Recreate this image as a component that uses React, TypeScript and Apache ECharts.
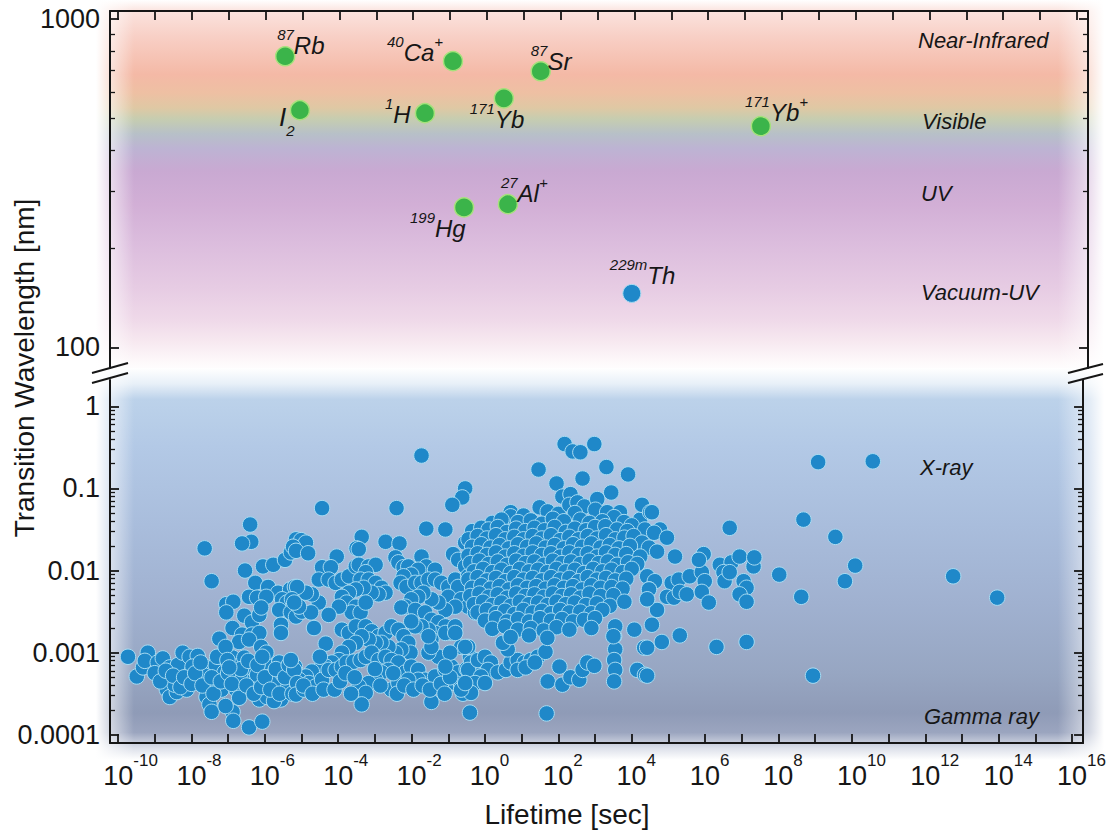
import React, { useEffect, useRef } from "react";
import * as echarts from "echarts";

// ---------------- DATA ----------------
// Top panel: optical transitions. x = log10(lifetime / s), y = wavelength (nm)
const clockLabels = ["87Rb", "I2", "40Ca+", "1H", "171Yb", "87Sr", "171Yb+", "199Hg", "27Al+"];
const clockLogLifetime = [-5.47, -5.07, -0.92, -1.68, 0.46, 1.46, 7.43, -0.62, 0.57];
const clockWavelengthNm = [771, 528, 745, 517, 574, 694, 472, 267, 273];
const thoriumLabels = ["229mTh"];
const thoriumLogLifetime = [3.93];
const thoriumWavelengthNm = [146];

// Bottom panel: nuclear transitions. [log10(lifetime / s), log10(wavelength / nm)]
const shortLivedBand = [
  [-9.73,-3.05],[-9.49,-3.29],[-9.32,-3.18],[-9.19,-3.0],[-9.27,-3.1],[-8.92,-3.12],[-8.78,-3.07],[-8.59,-3.18],[-8.64,-3.33],[-8.67,-3.45],
  [-8.59,-3.54],[-8.4,-3.48],[-8.46,-3.39],[-8.32,-3.22],[-8.37,-3.15],[-8.24,-3.0],[-8.05,-3.05],[-7.83,-3.04],[-7.97,-3.17],[-8.13,-3.45],
  [-8.16,-3.34],[-7.64,-3.17],[-7.64,-3.28],[-7.51,-3.39],[-7.59,-3.54],[-7.51,-3.63],[-7.45,-3.72],[-7.34,-3.15],[-7.24,-3.05],[-7.1,-3.24],
  [-7.18,-3.45],[-6.97,-3.33],[-6.88,-3.06],[-6.88,-3.72],[-6.86,-3.83],[-6.78,-3.17],[-6.78,-3.45],[-6.62,-3.28],[-6.56,-3.06],[-6.43,-3.17],
  [-6.43,-3.91],[-6.07,-3.84],[-6.43,-3.45],[-6.29,-3.33],[-6.15,-3.57],[-5.94,-3.54],[-5.88,-3.21],[-6.02,-3.12],[-5.75,-3.37],[-5.61,-3.12],
  [-5.5,-3.27],[-5.37,-3.43],[-5.56,-3.57],[-5.29,-3.24],[-5.18,-3.17],[-5.12,-3.37],[-5.75,-3.59],[-7.07,-3.65],[-6.21,-3.27],
  [-9.0,-3.25],[-8.85,-3.35],[-8.7,-3.22],[-8.5,-3.28],[-8.3,-3.42],[-8.2,-3.3],[-8.0,-3.38],[-7.9,-3.25],[-7.75,-3.12],[-7.7,-3.4],
  [-7.45,-3.3],[-7.4,-3.5],[-7.3,-3.05],[-7.2,-3.35],[-7.0,-3.25],[-6.9,-3.38],[-6.7,-3.55],[-6.65,-3.2],[-6.5,-3.4],[-6.45,-3.1],
  [-6.3,-3.5],[-6.2,-3.15],[-6.1,-3.42],[-6.0,-3.3],[-5.85,-3.45],[-5.7,-3.2],[-5.6,-3.5],[-5.45,-3.3],[-5.35,-3.15],[-5.25,-3.5],
];
const upperLeftBranch = [
  [-6.4,-1.44],[-6.37,-1.65],[-6.62,-1.67],[-7.64,-1.73],[-7.45,-2.13],[-6.54,-2.0],[-6.05,-1.95],[-5.77,-1.93],[-5.45,-1.87],[-5.29,-1.78],
  [-5.18,-1.71],[-5.15,-1.62],[-6.26,-2.15],[-5.91,-2.2],[-5.64,-2.27],[-5.31,-2.23],[-5.18,-2.2],[-6.43,-2.32],[-6.21,-2.33],[-5.96,-2.32],
  [-5.53,-2.35],[-5.4,-2.39],[-5.23,-2.44],[-5.61,-2.48],[-5.29,-2.51],[-5.15,-2.56],[-7.05,-2.41],[-6.86,-2.38],[-7.05,-2.51],[-6.56,-2.55],
  [-6.35,-2.63],[-6.15,-2.54],[-6.1,-2.45],[-6.88,-2.7],[-6.62,-2.78],[-6.35,-2.78],[-6.15,-2.76],[-6.7,-2.87],[-6.43,-2.84],[-7.24,-2.83],
  [-5.56,-2.66],[-5.56,-2.76],[-6.1,-2.93],[-5.96,-3.0],[-6.07,-3.05],[-7.07,-2.93],[-7.02,-3.09],[-6.97,-3.18],
];
const midUpperBand = [
  [-1.73,-0.6],[-4.44,-1.24],[-2.41,-1.24],[-0.54,-1.0],[-0.62,-1.11],[-0.89,-1.2],[-1.6,-1.49],[-1.08,-1.5],[-3.36,-1.59],[-3.5,-1.73],
  [-2.71,-1.65],[-2.33,-1.67],[-5.01,-1.63],[-4.88,-1.66],[-5.23,-1.71],[-5.15,-1.76],[-4.82,-1.79],[-4.04,-1.83],[-3.44,-1.74],
  [-4.44,-1.96],[-4.2,-1.96],[-4.53,-2.11],[-4.26,-2.11],[-4.07,-2.15],[-3.9,-2.11],[-3.71,-2.07],[-3.52,-1.95],[-3.44,-1.93],[-3.17,-1.95],
  [-2.98,-1.93],[-3.25,-2.02],[-3.39,-2.11],[-3.17,-2.11],[-2.98,-2.15],[-2.82,-2.21],[-2.71,-2.27],[-2.9,-2.29],[-3.09,-2.27],[-3.31,-2.21],
  [-3.52,-2.23],[-3.71,-2.27],[-3.9,-2.32],[-3.77,-2.39],[-3.52,-2.44],[-3.63,-2.51],[-3.39,-2.51],[-3.25,-2.39],[-3.98,-2.44],[-4.26,-2.54],
  [-4.53,-2.39],[-4.72,-2.29],[-4.88,-2.27],[-5.12,-2.2],[-5.26,-2.35],[-4.99,-2.5],[-4.74,-2.51],[-5.07,-2.44],[-5.2,-2.39],
  [-2.44,-1.84],[-2.36,-1.9],[-2.22,-1.96],[-2.09,-1.95],[-1.73,-1.83],[-1.6,-1.95],[-1.36,-1.99],[-1.82,-1.99],[-2.01,-2.05],[-2.22,-2.07],
  [-2.3,-2.15],[-2.14,-2.2],[-1.9,-2.15],[-1.73,-2.15],[-1.54,-2.11],[-1.36,-2.11],[-1.19,-2.15],[-1.0,-2.2],[-0.81,-2.11],[-0.87,-1.8],
  [-0.73,-1.87],[-0.54,-1.66],[-0.38,-1.62],[-0.27,-1.74],[-0.54,-1.95],[-0.46,-2.07],[-0.73,-2.2],[-1.0,-2.32],[-0.65,-2.35],[-0.46,-2.44],
  [-0.27,-2.51],[-0.81,-2.44],[-1.08,-2.48],[-1.27,-2.39],[-1.46,-2.35],[-1.68,-2.27],[-1.82,-2.32],[-2.01,-2.35],[-2.17,-2.44],[-2.28,-2.45],
  [-1.9,-2.48],[-1.63,-2.51],[-1.46,-2.6],[-1.27,-2.63],[-1.08,-2.68],[-0.92,-2.76],[-1.36,-2.76],[-1.54,-2.72],[-1.73,-2.68],[-1.9,-2.68],[-2.01,-2.62],
];
const midLowerBand = [
  [-4.66,-2.7],[-4.34,-2.89],[-3.9,-2.72],[-3.71,-2.76],[-3.52,-2.68],[-3.25,-2.68],[-3.09,-2.74],[-2.9,-2.8],[-2.71,-2.76],[-2.55,-2.68],
  [-2.36,-2.72],[-2.22,-2.8],[-2.09,-2.88],[-2.03,-3.0],[-2.28,-2.96],[-2.44,-3.0],[-2.63,-2.93],[-2.82,-2.88],[-2.98,-2.88],[-3.17,-2.84],
  [-3.36,-2.8],[-3.52,-2.88],[-3.71,-2.93],[-3.9,-3.0],[-3.98,-3.09],[-4.17,-3.12],[-4.34,-3.17],[-4.53,-3.21],[-4.72,-3.23],[-4.88,-3.29],
  [-5.07,-3.33],[-5.2,-3.21],[-5.29,-3.09],[-5.12,-3.37],[-4.8,-3.37],[-4.61,-3.41],[-4.44,-3.33],[-4.26,-3.21],[-4.07,-3.21],[-3.9,-3.17],
  [-3.77,-3.12],[-3.58,-3.11],[-3.39,-3.09],[-3.25,-3.05],[-3.09,-3.0],[-2.9,-3.09],[-2.71,-3.05],[-2.55,-3.09],[-2.36,-3.12],[-2.63,-3.21],
  [-2.82,-3.24],[-2.98,-3.33],[-3.17,-3.37],[-3.44,-3.41],[-3.25,-3.49],[-2.55,-3.45],[-2.36,-3.37],[-2.17,-3.24],[-2.01,-3.17],[-1.82,-3.21],
  [-1.63,-3.33],[-1.82,-3.33],[-2.09,-3.33],[-1.36,-3.29],[-1.08,-3.21],[-1.27,-3.05],[-1.54,-3.0],[-1.46,-2.84],[-1.08,-2.76],[-0.81,-2.68],
  [-0.92,-3.17],[-0.73,-3.24],[-0.81,-3.37],[-0.65,-3.41],[-0.46,-3.33],[-0.27,-3.17],[-0.41,-3.05],[-0.65,-2.93],[-3.36,-3.63],[-1.46,-3.6],
  [-0.41,-3.73],[-5.15,-3.51],[-4.93,-3.45],
  [-4.95,-3.4],[-4.7,-3.5],[-4.5,-3.05],[-4.4,-3.45],[-4.1,-3.45],[-3.95,-3.35],[-3.8,-3.25],[-3.65,-3.5],[-3.55,-3.3],[-3.0,-3.2],
  [-2.85,-3.4],[-2.5,-3.25],[-2.4,-3.5],[-2.2,-3.4],[-1.95,-3.45],[-1.7,-3.4],[-1.5,-3.45],[-1.2,-3.38],[-1.1,-3.5],[-0.95,-3.3],[-0.6,-3.5],[-0.5,-3.2],
];
const risingStreak = [
  [-0.46,-2.93],[-0.38,-3.12],[-0.46,-3.21],[-0.19,-3.09],[0.0,-3.05],[0.16,-3.12],[0.08,-3.21],[-0.11,-3.29],[-0.27,-3.37],[-0.38,-3.49],
  [0.0,-3.37],[0.35,-3.24],[0.57,-3.21],[0.7,-3.12],[0.89,-3.09],[1.08,-3.12],[1.25,-3.09],[1.44,-3.05],[1.65,-2.99],[0.89,-3.21],
  [1.11,-3.18],[1.36,-3.12],[0.62,-2.96],[0.49,-2.88],[0.7,-2.78],[0.89,-2.72],
  [2.03,-3.17],[1.71,-3.35],[2.11,-3.39],[2.33,-3.3],[2.57,-3.33],[2.66,-3.21],[2.79,-3.12],[2.98,-3.16],
  [3.52,-2.8],[3.55,-2.96],[3.52,-3.09],[3.55,-3.21],[3.52,-3.35],[4.07,-2.72],[4.34,-2.94],[4.15,-3.21],[4.36,-3.27],[1.68,-3.74],
  [-0.65,-3.45],[-0.54,-3.37],[-0.81,-2.76],[-0.54,-2.93],[-0.95,-3.0],[-1.08,-3.17],[-1.46,-2.93],[-1.54,-2.8],
];
const coreCloud = [
  [2.17,-0.46],[2.39,-0.55],[2.6,-0.56],[2.98,-0.46],[1.46,-0.77],[3.31,-0.74],[3.9,-0.83],[2.66,-0.88],[1.95,-0.94],[3.44,-1.05],
  [2.11,-1.1],[2.33,-1.07],
  [0.7,-1.29],[0.7,-1.34],[1.05,-1.33],[1.49,-1.23],[1.71,-1.28],[2.0,-1.31],[2.3,-1.2],[2.52,-1.17],[2.71,-1.22],[3.06,-1.13],
  [3.01,-1.26],[2.45,-1.3],[3.33,-1.29],[3.68,-1.29],[3.52,-1.35],[4.23,-1.38],[4.28,-1.2],[4.5,-1.29],
  [0.2,-1.42],[0.45,-1.38],[0.9,-1.41],[1.25,-1.39],[1.55,-1.43],[1.85,-1.37],[2.15,-1.4],[2.6,-1.38],[2.85,-1.42],[3.2,-1.4],[3.79,-1.41],[4.0,-1.45],
  [-0.35,-1.52],[-0.1,-1.48],[0.1,-1.5],[0.35,-1.47],[0.6,-1.53],[0.85,-1.49],[1.1,-1.52],[1.35,-1.48],[1.62,-1.51],[1.9,-1.47],
  [2.2,-1.53],[2.45,-1.49],[2.75,-1.51],[3.0,-1.47],[3.28,-1.46],[3.6,-1.5],[3.88,-1.52],[4.36,-1.5],
  [-0.45,-1.62],[-0.2,-1.58],[0.05,-1.61],[0.3,-1.57],[0.55,-1.62],[0.8,-1.59],[1.05,-1.62],[1.3,-1.58],[1.55,-1.61],[1.8,-1.57],
  [2.05,-1.63],[2.3,-1.59],[2.55,-1.62],[2.8,-1.58],[3.05,-1.61],[3.3,-1.57],[3.55,-1.62],[3.8,-1.6],[4.05,-1.58],[4.28,-1.66],
  [-0.35,-1.71],[-0.1,-1.68],[0.15,-1.72],[0.4,-1.69],[0.65,-1.73],[0.9,-1.68],[1.15,-1.71],[1.4,-1.67],[1.65,-1.72],[1.9,-1.69],
  [2.15,-1.73],[2.4,-1.68],[2.65,-1.71],[2.9,-1.67],[3.15,-1.72],[3.4,-1.69],[3.65,-1.73],[3.95,-1.7],[4.47,-1.72],
  [-0.45,-1.82],[-0.2,-1.79],[0.05,-1.81],[0.3,-1.78],[0.55,-1.83],[0.8,-1.79],[1.05,-1.82],[1.3,-1.78],[1.55,-1.81],[1.8,-1.79],
  [2.05,-1.83],[2.3,-1.78],[2.55,-1.81],[2.8,-1.79],[3.05,-1.83],[3.3,-1.78],[3.55,-1.81],[3.85,-1.8],[4.23,-1.83],
  [-0.4,-1.91],[-0.15,-1.88],[0.1,-1.92],[0.35,-1.89],[0.6,-1.93],[0.85,-1.88],[1.1,-1.91],[1.35,-1.89],[1.6,-1.93],[1.85,-1.88],
  [2.1,-1.91],[2.35,-1.89],[2.6,-1.92],[2.85,-1.88],[3.1,-1.91],[3.35,-1.89],[3.6,-1.93],[3.9,-1.9],[4.15,-1.92],
  [-0.3,-2.01],[-0.05,-1.98],[0.2,-2.02],[0.45,-1.99],[0.7,-2.03],[0.95,-1.98],[1.2,-2.01],[1.45,-1.99],[1.7,-2.02],[1.95,-1.98],
  [2.2,-2.01],[2.45,-1.99],[2.7,-2.03],[2.95,-1.98],[3.2,-2.01],[3.45,-1.99],[3.75,-2.02],[4.0,-1.98],
  [-0.45,-2.11],[-0.2,-2.08],[0.05,-2.12],[0.3,-2.09],[0.55,-2.13],[0.8,-2.08],[1.05,-2.11],[1.3,-2.09],[1.55,-2.12],[1.8,-2.08],
  [2.05,-2.11],[2.3,-2.09],[2.55,-2.13],[2.8,-2.08],[3.05,-2.11],[3.3,-2.09],[3.55,-2.12],[3.85,-2.1],[4.42,-2.07],[4.63,-2.13],
  [-0.35,-2.21],[-0.1,-2.18],[0.15,-2.22],[0.4,-2.19],[0.65,-2.23],[0.9,-2.18],[1.15,-2.21],[1.4,-2.19],[1.65,-2.22],[1.9,-2.18],
  [2.15,-2.21],[2.4,-2.19],[2.65,-2.23],[2.9,-2.18],[3.15,-2.21],[3.45,-2.2],[3.75,-2.22],[4.47,-2.23],
  [-0.4,-2.31],[-0.15,-2.28],[0.1,-2.32],[0.35,-2.29],[0.6,-2.33],[0.85,-2.28],[1.1,-2.31],[1.35,-2.29],[1.6,-2.32],[1.85,-2.28],
  [2.1,-2.31],[2.35,-2.29],[2.6,-2.33],[2.85,-2.28],[3.15,-2.31],[3.5,-2.3],[4.42,-2.35],
  [-0.3,-2.41],[-0.05,-2.38],[0.2,-2.42],[0.45,-2.39],[0.7,-2.43],[0.95,-2.38],[1.2,-2.41],[1.45,-2.39],[1.7,-2.42],[1.95,-2.38],
  [2.2,-2.41],[2.45,-2.39],[2.75,-2.42],[3.05,-2.4],[3.4,-2.43],[3.8,-2.38],
  [-0.2,-2.51],[0.05,-2.48],[0.3,-2.52],[0.55,-2.49],[0.8,-2.53],[1.05,-2.48],[1.3,-2.51],[1.55,-2.49],[1.8,-2.52],[2.05,-2.48],
  [2.3,-2.51],[2.6,-2.5],[2.9,-2.52],[3.2,-2.48],[4.69,-2.48],
  [0.0,-2.61],[0.3,-2.58],[0.6,-2.62],[0.9,-2.59],[1.2,-2.62],[1.5,-2.58],[1.8,-2.61],[2.1,-2.59],[2.4,-2.62],[2.7,-2.6],[3.0,-2.58],[4.55,-2.66],
  [0.2,-2.71],[0.55,-2.68],[0.9,-2.72],[1.25,-2.7],[1.6,-2.73],[1.95,-2.69],[2.3,-2.72],[2.9,-2.7],[3.55,-2.68],
  [0.7,-2.81],[1.2,-2.79],[1.7,-2.82],[3.5,-2.8],
];
const longLivedTail = [
  [4.55,-1.29],[4.77,-1.5],[4.61,-1.54],[4.96,-1.6],[4.69,-1.77],[4.47,-2.23],[4.42,-2.35],
  [5.09,-2.15],[5.28,-2.11],[4.96,-2.32],[5.15,-2.33],[5.31,-2.26],[5.5,-2.29],[5.58,-2.07],[5.91,-2.02],[5.96,-1.8],[5.83,-1.87],
  [5.99,-2.13],[5.91,-2.26],[6.1,-2.39],[6.4,-1.93],[6.72,-1.9],[6.94,-1.83],[6.5,-2.02],[6.53,-2.13],[6.67,-2.02],[7.05,-2.13],
  [7.13,-2.21],[6.94,-2.29],[7.13,-2.38],[7.32,-1.95],[7.34,-1.84],[5.18,-1.83],[6.67,-1.48],[8.02,-2.05],
  [4.42,-2.94],[4.42,-3.28],[4.82,-2.87],[5.31,-2.79],[6.31,-2.93],[7.13,-2.87],
  [9.08,-0.68],[10.57,-0.67],[8.68,-1.38],[9.55,-1.59],[10.09,-1.94],[9.81,-2.13],[8.62,-2.32],[8.94,-3.28],[12.76,-2.07],[13.96,-2.33],
];

// Axis ticks
const xTickExponents = [-10,-9,-8,-7,-6,-5,-4,-3,-2,-1,0,1,2,3,4,5,6,7,8,9,10,11,12,13,14,15,16];
const xLabelExponents = [-10,-8,-6,-4,-2,0,2,4,6,8,10,12,14,16];
const topMajorNm = [100, 1000];
const topMajorLabels = ["100", "1000"];
const topMinorNm = [200, 300, 400, 500, 600, 700, 800, 900];
const bottomMajorNm = [0.0001, 0.001, 0.01, 0.1, 1];
const bottomMajorLabels = ["0.0001", "0.001", "0.01", "0.1", "1"];
const minorMultipliers = [2, 3, 4, 5, 6, 7, 8, 9];
const bottomMinorDecades = [0.0001, 0.001, 0.01, 0.1];

// Spectral region labels
const regionNames = ["Near-Infrared", "Visible", "UV", "Vacuum-UV", "X-ray", "Gamma ray"];

// ---------------- STYLE / LAYOUT ----------------
const INK = "#161616";
const FONT = "'Liberation Sans', Arial, Helvetica, sans-serif";
const GRID_LEFT = 110;
const GRID_W = 978;
const X_MIN = -10.22, X_MAX = 16.3;
const TOP_MIN = 1.937, TOP_MAX = 3.025;
const BOT_MIN = -4.1, BOT_MAX = 0.32;
const BASE_SIZE = 27;
const EXP_SIZE = 17;

const richLabels: Record<string, string> = {
  "87Rb": "{s|87}{m|Rb}",
  "I2": "{mi|I}{sb|2}",
  "40Ca+": "{s|40}{m|Ca}{s|+}",
  "1H": "{s|1}{m|H}",
  "171Yb": "{s|171}{m|Yb}",
  "87Sr": "{s|87}{m|Sr}",
  "171Yb+": "{s|171}{m|Yb}{s|+}",
  "199Hg": "{s|199}{m|Hg}",
  "27Al+": "{s|27}{m|Al}{s|+}",
  "229mTh": "{s|229m}{m|Th}",
};
const labelOffsets: Record<string, number[]> = {
  "87Rb": [-8, -14],
  "I2": [-21, 11],
  "40Ca+": [-66, -12],
  "1H": [-40, -2],
  "171Yb": [-34, 18],
  "87Sr": [-10, -13],
  "171Yb+": [-16, -17],
  "199Hg": [-54, 18],
  "27Al+": [-7, -14],
  "229mTh": [-22, -21],
};
const regionPos: number[][] = [[918, 40], [922, 121], [921, 193], [921, 292], [920, 467], [924, 716]];

const log10 = (v: number) => Math.log10(v);

// approximate rendered width of an exponent string, used to keep "10" centred on its tick
function expWidth(s: string) {
  let w = 0;
  for (const ch of s) w += ch === "-" ? EXP_SIZE * 0.33 : EXP_SIZE * 0.556;
  return Math.round(w);
}

function yAxisDef(grid: number, pos: string, min: number, max: number, ticks: number[], len: number, line: boolean, labels: string[] | null, labelVals: number[] | null) {
  return {
    type: "value",
    gridIndex: grid,
    position: pos,
    min,
    max,
    axisLine: { show: line, onZero: false, lineStyle: { color: INK, width: 2 } },
    axisTick: { show: true, inside: true, length: len, customValues: ticks, lineStyle: { color: INK, width: len > 6 ? 1.8 : 1.3 } },
    axisLabel: labels
      ? {
          show: true,
          customValues: labelVals,
          margin: 10,
          fontSize: 27,
          fontFamily: FONT,
          color: INK,
          formatter: (v: number) => {
            const i = labelVals!.findIndex((t) => Math.abs(t - v) < 1e-6);
            return i >= 0 ? labels[i] : "";
          },
        }
      : { show: false },
    splitLine: { show: false },
  };
}

function buildOption() {
  const topMajor = topMajorNm.map(log10);
  const topMinor = topMinorNm.map(log10);
  const botMajor = bottomMajorNm.map(log10);
  const botMinor: number[] = [];
  bottomMinorDecades.forEach((d) => minorMultipliers.forEach((m) => botMinor.push(log10(d * m))));

  const richStyles = {
    s: { fontSize: 15, fontStyle: "italic", fontFamily: FONT, color: INK, verticalAlign: "top", lineHeight: 16 },
    m: { fontSize: 24, fontStyle: "italic", fontFamily: FONT, color: INK, verticalAlign: "bottom", lineHeight: 30 },
    mi: { fontSize: 26, fontStyle: "italic", fontFamily: FONT, color: INK, verticalAlign: "top", lineHeight: 34 },
    sb: { fontSize: 15, fontStyle: "italic", fontFamily: FONT, color: INK, verticalAlign: "bottom", lineHeight: 16 },
  };

  // x tick labels: "10" with a raised exponent; the "10" is padded on the left by the exponent width
  const xRich: Record<string, any> = {
    e: { fontSize: EXP_SIZE, fontFamily: FONT, color: INK, verticalAlign: "top", lineHeight: 18 },
  };
  xLabelExponents.forEach((v) => {
    const w = expWidth(String(v));
    xRich["b" + w] = {
      fontSize: BASE_SIZE, fontFamily: FONT, color: INK, verticalAlign: "bottom", lineHeight: 37,
      padding: [0, 0, 0, w],
    };
  });

  const clockData = clockLabels.map((name, i) => ({
    value: [clockLogLifetime[i], log10(clockWavelengthNm[i])],
    label: { formatter: richLabels[name], offset: labelOffsets[name] },
  }));
  const thoriumData = thoriumLabels.map((name, i) => ({
    value: [thoriumLogLifetime[i], log10(thoriumWavelengthNm[i])],
    label: { formatter: richLabels[name], offset: labelOffsets[name] },
  }));
  const nuclearData = [
    ...shortLivedBand, ...upperLeftBranch, ...midUpperBand, ...midLowerBand, ...risingStreak, ...coreCloud, ...longLivedTail,
  ];

  const labelBase = {
    show: true,
    position: "inside",
    align: "left",
    verticalAlign: "middle",
    color: INK,
    textBorderWidth: 0,
    rich: richStyles,
  };

  const topBg = new echarts.graphic.LinearGradient(0, 0, 0, 1, [
    { offset: 0.0, color: "#ffffff" },
    { offset: 0.03, color: "#fbe3de" },
    { offset: 0.1, color: "#f8cfc5" },
    { offset: 0.2, color: "#f4b9a6" },
    { offset: 0.25, color: "#eec0a3" },
    { offset: 0.29, color: "#dfc8a4" },
    { offset: 0.32, color: "#c6cdb0" },
    { offset: 0.36, color: "#b7c0c8" },
    { offset: 0.4, color: "#bdb3d3" },
    { offset: 0.46, color: "#c9a9d2" },
    { offset: 0.55, color: "#d2afd6" },
    { offset: 0.65, color: "#dbbcdd" },
    { offset: 0.77, color: "#e6cbe3" },
    { offset: 0.86, color: "#efd9e9" },
    { offset: 0.92, color: "#f7e9f0" },
    { offset: 0.97, color: "#fdf8fa" },
    { offset: 1.0, color: "#ffffff" },
  ]);
  const botBg = new echarts.graphic.LinearGradient(0, 0, 0, 1, [
    { offset: 0.0, color: "#ffffff" },
    { offset: 0.04, color: "#e8f0f8" },
    { offset: 0.08, color: "#bcd2ea" },
    { offset: 0.2, color: "#b3c9e6" },
    { offset: 0.4, color: "#a9bddc" },
    { offset: 0.6, color: "#a0b1d0" },
    { offset: 0.78, color: "#97a6c2" },
    { offset: 0.88, color: "#8f9bb7" },
    { offset: 0.93, color: "#9ba5bf" },
    { offset: 0.97, color: "#dde1ea" },
    { offset: 1.0, color: "#ffffff" },
  ]);
  const leftFade = new echarts.graphic.LinearGradient(0, 0, 1, 0, [
    { offset: 0, color: "rgba(255,255,255,1)" },
    { offset: 0.35, color: "rgba(255,255,255,0.6)" },
    { offset: 1, color: "rgba(255,255,255,0)" },
  ]);
  const rightFade = new echarts.graphic.LinearGradient(0, 0, 1, 0, [
    { offset: 0, color: "rgba(255,255,255,0)" },
    { offset: 0.7, color: "rgba(255,255,255,0.6)" },
    { offset: 1, color: "rgba(255,255,255,1)" },
  ]);

  const textStyle = (text: string, size: number, italic: boolean, align: string) => ({
    text,
    fontSize: size,
    fontStyle: italic ? "italic" : "normal",
    fontFamily: FONT,
    fill: INK,
    align,
    textAlign: align,
    verticalAlign: "middle",
    textVerticalAlign: "middle",
  });

  const breakLine = (x1: number, y1: number, x2: number, y2: number) => ({
    type: "line",
    shape: { x1, y1, x2, y2 },
    style: { stroke: INK, lineWidth: 2 },
    z: 20,
    silent: true,
  });

  return {
    animation: false,
    backgroundColor: "#ffffff",
    grid: [
      { left: GRID_LEFT, width: GRID_W, top: 11, height: 357 },
      { left: GRID_LEFT, width: GRID_W, top: 380, height: 363 },
    ],
    xAxis: [
      {
        type: "value", gridIndex: 0, position: "top", min: X_MIN, max: X_MAX,
        axisLine: { show: true, onZero: false, lineStyle: { color: INK, width: 2 } },
        axisTick: { show: true, inside: true, length: 9, customValues: xTickExponents, lineStyle: { color: INK, width: 1.8 } },
        axisLabel: { show: false }, splitLine: { show: false },
      },
      {
        type: "value", gridIndex: 1, position: "bottom", min: X_MIN, max: X_MAX,
        axisLine: { show: true, onZero: false, lineStyle: { color: INK, width: 2 } },
        axisTick: { show: true, inside: true, length: 9, customValues: xTickExponents, lineStyle: { color: INK, width: 1.8 } },
        axisLabel: {
          show: true, customValues: xLabelExponents, margin: 9,
          formatter: (v: number) => `{b${expWidth(String(v))}|10}{e|${v}}`,
          rich: xRich,
        },
        splitLine: { show: false },
      },
    ],
    yAxis: [
      yAxisDef(0, "left", TOP_MIN, TOP_MAX, topMajor, 9, true, topMajorLabels, topMajor),
      yAxisDef(0, "left", TOP_MIN, TOP_MAX, topMinor, 5, false, null, null),
      yAxisDef(0, "right", TOP_MIN, TOP_MAX, topMajor, 9, true, null, null),
      yAxisDef(0, "right", TOP_MIN, TOP_MAX, topMinor, 5, false, null, null),
      yAxisDef(1, "left", BOT_MIN, BOT_MAX, botMajor, 9, true, bottomMajorLabels, botMajor),
      yAxisDef(1, "left", BOT_MIN, BOT_MAX, botMinor, 5, false, null, null),
      yAxisDef(1, "right", BOT_MIN, BOT_MAX, botMajor, 9, true, null, null),
      yAxisDef(1, "right", BOT_MIN, BOT_MAX, botMinor, 5, false, null, null),
    ],
    series: [
      {
        name: "nuclear", type: "scatter", xAxisIndex: 1, yAxisIndex: 4,
        data: nuclearData, symbolSize: 15.5,
        itemStyle: { color: "#1f88c9", borderColor: "#a9dcf2", borderWidth: 1, opacity: 1 },
        z: 3,
      },
      {
        name: "clocks", type: "scatter", xAxisIndex: 0, yAxisIndex: 0,
        data: clockData, symbolSize: 19,
        itemStyle: { color: "#3bb44a", borderColor: "#a6e27c", borderWidth: 1.5, opacity: 1 },
        label: labelBase,
        z: 4,
      },
      {
        name: "thorium", type: "scatter", xAxisIndex: 0, yAxisIndex: 0,
        data: thoriumData, symbolSize: 18,
        itemStyle: { color: "#1f88c9", borderColor: "#a9dcf2", borderWidth: 1, opacity: 1 },
        label: labelBase,
        z: 4,
      },
    ],
    graphic: [
      { type: "rect", shape: { x: 96, y: 0, width: 1008, height: 372 }, style: { fill: topBg }, z: -10, silent: true },
      { type: "rect", shape: { x: 96, y: 368, width: 1008, height: 392 }, style: { fill: botBg }, z: -10, silent: true },
      { type: "rect", shape: { x: 96, y: 0, width: 38, height: 770 }, style: { fill: leftFade }, z: -9, silent: true },
      { type: "rect", shape: { x: 1058, y: 0, width: 46, height: 770 }, style: { fill: rightFade }, z: -9, silent: true },
      { type: "rect", shape: { x: 1104, y: 0, width: 10, height: 770 }, style: { fill: "#ffffff" }, z: -9, silent: true },
      breakLine(92, 373, 128, 363),
      breakLine(92, 383, 128, 373),
      breakLine(1068, 373, 1103, 364),
      breakLine(1068, 383, 1103, 374),
      ...regionNames.map((name, i) => ({
        type: "text", x: regionPos[i][0], y: regionPos[i][1], z: 20, silent: true,
        style: textStyle(name, 22, true, "left"),
      })),
      {
        type: "text", x: 24, y: 368, rotation: Math.PI / 2, z: 20, silent: true,
        style: textStyle("Transition Wavelength [nm]", 28, false, "center"),
      },
      {
        type: "text", x: 567, y: 814, z: 20, silent: true,
        style: textStyle("Lifetime [sec]", 28, false, "center"),
      },
    ],
  };
}

export default function App() {
  const ref = useRef<HTMLDivElement>(null);
  useEffect(() => {
    if (!ref.current) return;
    const chart = echarts.init(ref.current, null, { renderer: "svg" });
    chart.setOption(buildOption() as any);
    return () => chart.dispose();
  }, []);
  return (
    <div
      ref={ref}
      style={{ position: "fixed", left: 0, top: 0, width: 1109, height: 833, background: "#ffffff" }}
    />
  );
}
